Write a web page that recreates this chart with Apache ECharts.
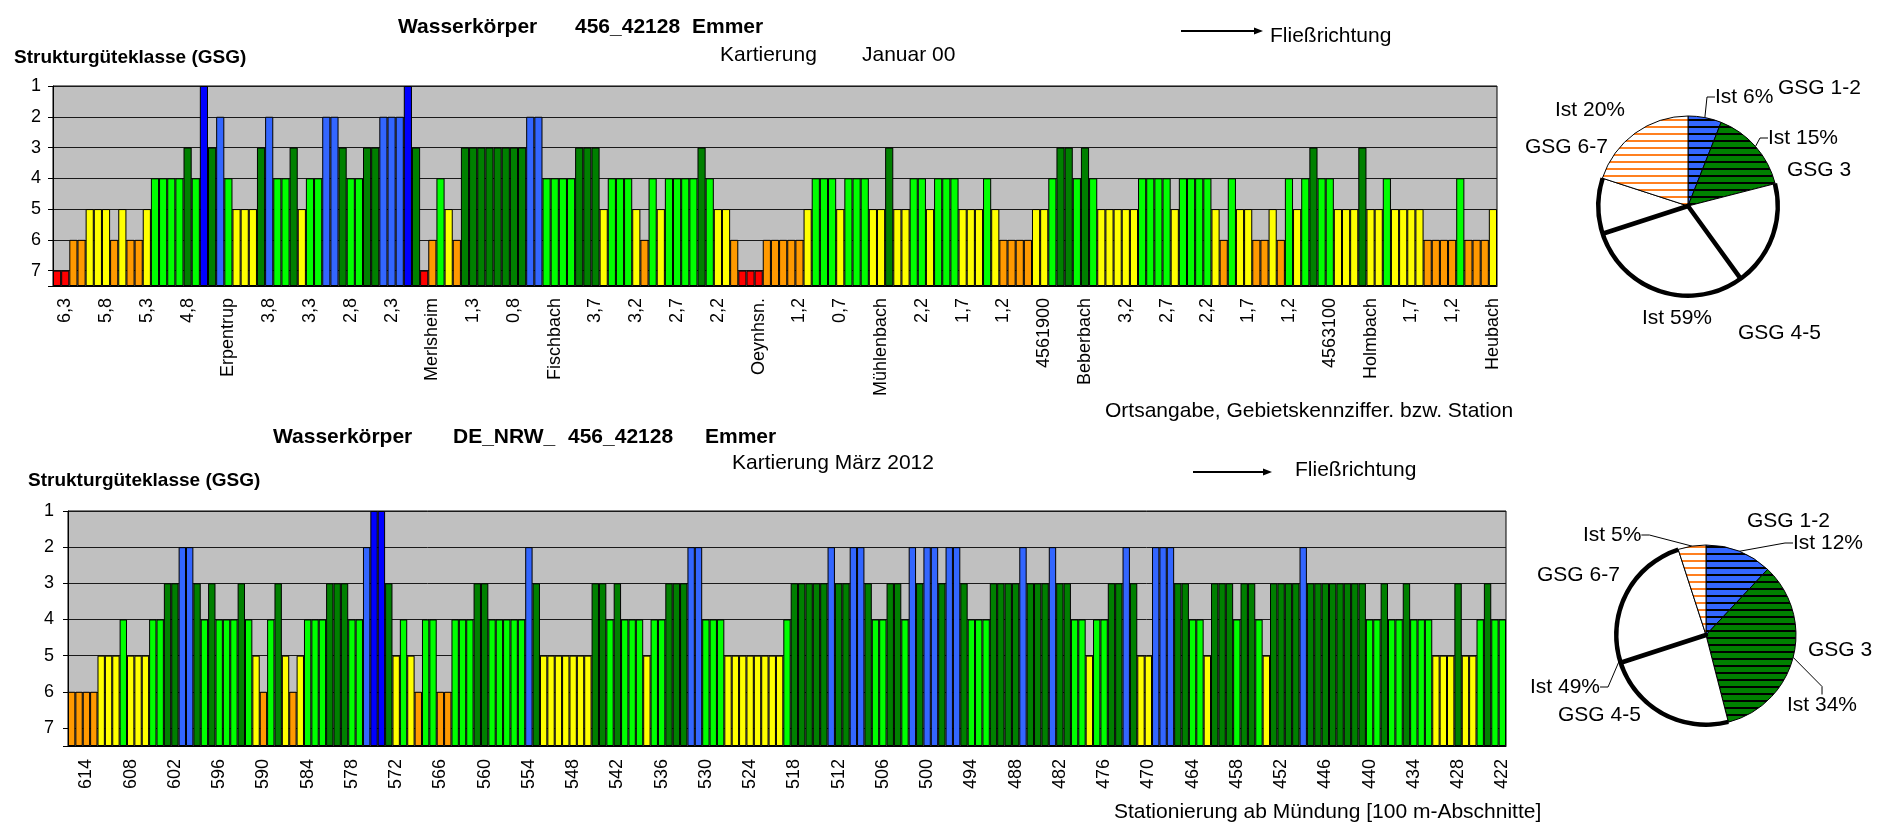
<!DOCTYPE html>
<html>
<head>
<meta charset="utf-8">
<script src="https://cdn.jsdelivr.net/npm/echarts@6/dist/echarts.min.js"></script>
<style>
html,body{margin:0;padding:0;background:#fff;}
#c{width:1896px;height:826px;}
</style>
</head>
<body>
<div id="c"></div>
<script>
// ---------------- DATA ----------------
// Top chart: Kartierung Januar 00 (GSG per 100 m section, 177 sections)
const topTickLabels = ['6,3','5,8','5,3','4,8','Erpentrup','3,8','3,3','2,8','2,3','Merlsheim',
  '1,3','0,8','Fischbach','3,7','3,2','2,7','2,2','Oeynhsn.','1,2','0,7','Mühlenbach','2,2','1,7',
  '1,2','4561900','Beberbach','3,2','2,7','2,2','1,7','1,2','4563100','Holmbach','1,7','1,2','Heubach'];
const topGSG = [
  7,7,6,6,5,5,5,6,5,6,6,5,4,4,4,4,3,4,1,3,2,4,5,5,5,3,2,4,4,3,5,4,4,2,2,3,4,4,
  3,3,2,2,2,1,3,7,6,4,5,6,3,3,3,3,3,3,3,3,2,2,4,4,4,4,3,3,3,5,4,4,4,5,6,4,5,
  4,4,4,4,3,4,5,5,6,7,7,7,6,6,6,6,6,5,4,4,4,5,4,4,4,5,5,3,5,5,4,4,5,4,4,4,5,5,
  5,4,5,6,6,6,6,5,5,4,3,3,4,3,4,5,5,5,5,5,4,4,4,4,5,4,4,4,4,5,6,4,5,5,6,6,5,6,
  4,5,4,3,4,4,5,5,5,3,5,5,4,5,5,5,5,6,6,6,6,4,6,6,6,5
];
// Bottom chart: Kartierung März 2012, stations 616 ... 422 (100 m sections)
const bottomFirstStation = 616;
const bottomLastStation = 422;
const bottomGSG = [
  6,6,6,6,5,5,5,4,5,5,5,4,4,3,3,2,2,3,4,3,4,4,4,3,4,5,6,4,3,5,6,5,4,4,4,3,3,
  3,4,4,2,1,1,3,5,4,5,6,4,4,6,6,4,4,4,3,3,4,4,4,4,4,2,3,5,5,5,5,5,5,5,3,3,4,3,
  4,4,4,5,4,4,3,3,3,2,2,4,4,4,5,5,5,5,5,5,5,5,4,3,3,3,3,3,2,3,3,2,2,3,4,4,3,3,4,2,3,
  2,2,3,2,2,3,4,4,4,3,3,3,3,2,3,3,3,2,3,3,4,4,5,4,4,3,3,2,3,5,5,2,2,2,3,3,4,4,
  5,3,3,3,4,3,3,4,5,3,3,3,3,2,3,3,3,3,3,3,3,3,4,4,3,4,4,3,4,4,4,5,5,5,3,5,5,4,3,4,4
];
// Pies (Ist %)
const pieClasses = ['GSG 1-2','GSG 3','GSG 4-5','GSG 6-7'];
const topIst = [6,15,59,20];
const bottomIst = [12,34,49,5];
// thick radial separator lines (% from 12 o'clock, clockwise)
const topThickLines = [40,70];
const bottomThickLines = [70];

// ---------------- STYLE ----------------
const F = '"Liberation Sans", Arial, Helvetica, sans-serif';
const AXIS_BOTTOM = 7.5;
const gsgColor = {1:'#0000FF',2:'#3366FF',3:'#008000',4:'#00FF00',5:'#FFFF00',6:'#FF9900',7:'#FF0000'};

function stripes(bg, line, period, lw){
  const c = document.createElement('canvas');
  c.width = 8; c.height = period;
  const g = c.getContext('2d');
  g.fillStyle = bg; g.fillRect(0,0,8,period);
  g.fillStyle = line; g.fillRect(0,0,8,lw);
  return {image:c, repeat:'repeat'};
}
const pieFills = [stripes('#3366FF','#000',7,2), stripes('#008000','#000',7,2), '#FFFFFF', stripes('#FFFFFF','#FF8020',7,2)];

const topCats = topGSG.map((_, i) => String(i));
const bottomCats = [];
for (let s = bottomFirstStation; s >= bottomLastStation; s--) bottomCats.push(String(s));

function topLabelAt(i){ return (i % 5 === 1) ? (topTickLabels[(i-1)/5] || '') : ''; }

function yAxisCfg(gi, margin){
  return {type:'value', gridIndex:gi, inverse:true, min:1, max:AXIS_BOTTOM, interval:1,
    axisLine:{show:true, lineStyle:{color:'#000', width:1}},
    axisTick:{show:true, inside:false, length:5, lineStyle:{color:'#000'}},
    axisLabel:{margin:margin, fontSize:18, color:'#000', fontFamily:F,
      formatter: v => Number.isInteger(v) ? String(v) : ''},
    splitLine:{show:true, lineStyle:{color:'#1a1a1a', width:1}}};
}
function barSeries(gsg, gi){
  return [
    {type:'bar', xAxisIndex:gi, yAxisIndex:gi, stack:'s'+gi, data:gsg.slice(), barCategoryGap:'0%',
      itemStyle:{color:'rgba(0,0,0,0)', borderWidth:0}, silent:true},
    {type:'bar', xAxisIndex:gi, yAxisIndex:gi, stack:'s'+gi, barCategoryGap:'0%',
      data: gsg.map(v => AXIS_BOTTOM - v),
      itemStyle:{color: p => gsgColor[gsg[p.dataIndex]], borderColor:'#000', borderWidth:1},
      emphasis:{disabled:true}}
  ];
}

function istPie(center, ist, pos, lineShow){
  return {type:'pie', center:center, radius:[0,90], startAngle:90, clockwise:true,
    avoidLabelOverlap:false, silent:true, emphasis:{disabled:true},
    data: ist.map((v,i)=>({name:pieClasses[i], value:v, itemStyle:{color:pieFills[i]}, labelLine:{show:lineShow[i]}})),
    itemStyle:{borderColor:'#000', borderWidth:1, borderRadius:0},
    label:{show:true, position:'outside', formatter:'Ist {c}%', color:'#000', fontSize:21, fontFamily:F},
    labelLine:{show:true, length:8, length2:8, lineStyle:{color:'#000', width:1}},
    labelLayout: p => ({x:pos[p.dataIndex][0], y:pos[p.dataIndex][1], align:'left', verticalAlign:'middle'})
  };
}
function gsgPie(center, ist, pos){
  return {type:'pie', center:center, radius:[0,90], startAngle:90, clockwise:true,
    avoidLabelOverlap:false, silent:true, emphasis:{disabled:true},
    data: ist.map((v,i)=>({name:pieClasses[i], value:v})),
    itemStyle:{color:'rgba(0,0,0,0)', borderWidth:0},
    label:{show:true, position:'outside', formatter:'{b}', color:'#000', fontSize:21, fontFamily:F},
    labelLine:{show:false},
    labelLayout: p => ({x:pos[p.dataIndex][0], y:pos[p.dataIndex][1], align:'left', verticalAlign:'middle'})
  };
}
function thickLines(center, lines){
  const clear = {color:'rgba(0,0,0,0)', borderWidth:0};
  const data = []; let prev = 0;
  lines.forEach(p => {
    data.push({value:p - prev, itemStyle:clear});
    data.push({value:0.02, itemStyle:{color:'#000', borderColor:'#000', borderWidth:4.5}});
    prev = p + 0.02;
  });
  data.push({value:100 - prev, itemStyle:clear});
  return {type:'pie', center:center, radius:[0,89], startAngle:90, clockwise:true, silent:true,
    label:{show:false}, labelLine:{show:false}, emphasis:{disabled:true}, data:data};
}
function thickRing(center, ist){
  const clear = {color:'rgba(0,0,0,0)', borderWidth:0};
  return {type:'pie', center:center, radius:[87.5,92], startAngle:90, clockwise:true, silent:true,
    label:{show:false}, labelLine:{show:false}, emphasis:{disabled:true},
    data:[{value:ist[0]+ist[1], itemStyle:clear},{value:ist[2], itemStyle:{color:'#000', borderWidth:0}},{value:ist[3], itemStyle:clear}]};
}

function txt(x, y, s, size, bold){
  return {type:'text', x:x, y:y, silent:true,
    style:{text:s, fill:'#000', fontSize:size, fontWeight:bold?'bold':'normal', fontFamily:F, align:'left', verticalAlign:'middle'}};
}
function arrow(x1, x2, y){
  return [
    {type:'line', silent:true, shape:{x1:x1, y1:y, x2:x2-8, y2:y}, style:{stroke:'#000', lineWidth:2}},
    {type:'polygon', silent:true, shape:{points:[[x2-9,y-3.5],[x2,y],[x2-9,y+3.5]]}, style:{fill:'#000'}}
  ];
}

const topCenter = [1688, 206], botCenter = [1706, 635];

const option = {
  animation:false,
  textStyle:{fontFamily:F},
  grid:[
    {left:53, top:86, width:1444, height:200, show:true, backgroundColor:'#C0C0C0', borderColor:'#000', borderWidth:1, containLabel:false},
    {left:68, top:511, width:1438, height:235, show:true, backgroundColor:'#C0C0C0', borderColor:'#000', borderWidth:1, containLabel:false}
  ],
  xAxis:[
    {type:'category', gridIndex:0, data:topCats, boundaryGap:true,
      axisLine:{onZero:false, lineStyle:{color:'#000'}}, axisTick:{show:false}, splitLine:{show:false},
      axisLabel:{interval:0, rotate:90, margin:12, fontSize:18, color:'#000', fontFamily:F,
        formatter:(v,i)=>topLabelAt(i)}},
    {type:'category', gridIndex:1, data:bottomCats, boundaryGap:true,
      axisLine:{onZero:false, lineStyle:{color:'#000'}}, axisTick:{show:false}, splitLine:{show:false},
      axisLabel:{interval:(i,v)=>Number(v) % 6 === 2, rotate:90, margin:13, fontSize:18, color:'#000', fontFamily:F}}
  ],
  yAxis:[yAxisCfg(0,12), yAxisCfg(1,14)],
  series:[].concat(
    barSeries(topGSG, 0),
    barSeries(bottomGSG, 1),
    [
      istPie(topCenter, topIst, [[1715,97],[1768,138],[1642,318],[1555,110]], [true,true,false,false]),
      thickLines(topCenter, topThickLines),
      thickRing(topCenter, topIst),
      gsgPie(topCenter, topIst, [[1778,88],[1787,170],[1738,333],[1525,147]]),
      istPie(botCenter, bottomIst, [[1793,543],[1787,705],[1530,687],[1583,535]], [true,true,true,true]),
      thickLines(botCenter, bottomThickLines),
      thickRing(botCenter, bottomIst),
      gsgPie(botCenter, bottomIst, [[1747,521],[1808,650],[1558,715],[1537,575]])
    ]
  ),
  graphic:[].concat([
    txt(398, 27, 'Wasserkörper', 21, true),
    txt(575, 27, '456_42128', 21, true),
    txt(692, 27, 'Emmer', 21, true),
    txt(720, 55, 'Kartierung', 21, false),
    txt(862, 55, 'Januar 00', 21, false),
    txt(1270, 36, 'Fließrichtung', 21, false),
    txt(14, 58, 'Strukturgüteklasse (GSG)', 19, true),
    txt(1105, 411, 'Ortsangabe, Gebietskennziffer. bzw. Station', 21, false),
    txt(273, 437, 'Wasserkörper', 21, true),
    txt(453, 437, 'DE_NRW_', 21, true),
    txt(568, 437, '456_42128', 21, true),
    txt(705, 437, 'Emmer', 21, true),
    txt(732, 463, 'Kartierung März 2012', 21, false),
    txt(1295, 470, 'Fließrichtung', 21, false),
    txt(28, 481, 'Strukturgüteklasse (GSG)', 19, true),
    txt(1114, 812, 'Stationierung ab Mündung [100 m-Abschnitte]', 21, false)
  ], arrow(1181, 1263, 31), arrow(1193, 1272, 472))
};

const chart = echarts.init(document.getElementById('c'), null, {renderer:'canvas'});
chart.setOption(option);
</script>
</body>
</html>
